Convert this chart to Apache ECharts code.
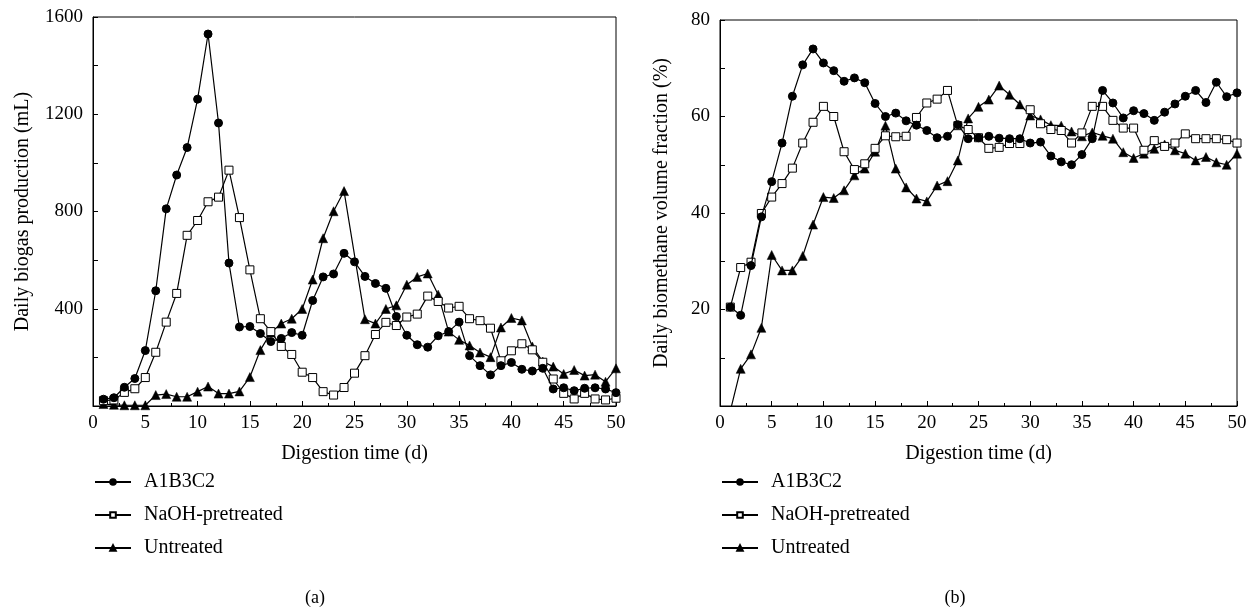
<!DOCTYPE html>
<html>
<head>
<meta charset="utf-8">
<script src="https://cdn.jsdelivr.net/npm/echarts@6/dist/echarts.min.js"></script>
<style>
html,body{margin:0;padding:0;background:#fff;}
#chart{width:1257px;height:616px;}
</style>
</head>
<body>
<div id="chart"></div>
<script>
// ---- data ----
const days = [1,2,3,4,5,6,7,8,9,10,11,12,13,14,15,16,17,18,19,20,21,22,23,24,25,26,27,28,29,30,31,32,33,34,35,36,37,38,39,40,41,42,43,44,45,46,47,48,49,50];
const seriesNames = ['A1B3C2','NaOH-pretreated','Untreated'];

// (a) Daily biogas production (mL)
const biogasA1B3C2 = [28,34,77,113,228,474,811,950,1063,1262,1530,1164,588,325,327,298,265,278,302,291,434,531,543,628,593,533,504,484,368,291,252,242,289,306,345,207,166,128,166,179,151,144,155,70,75,63,73,75,70,55];
const biogasNaOH = [22,25,56,71,117,221,345,463,702,763,840,859,970,775,560,359,306,245,212,139,117,59,45,76,135,207,294,344,331,366,378,452,430,403,410,359,351,320,186,227,256,231,180,111,52,29,52,29,25,32];
const biogasUntreated = [8,5,3,3,3,45,49,38,38,59,80,51,51,60,119,230,302,339,359,399,520,690,801,884,null,357,339,399,414,499,531,545,458,306,272,249,220,201,323,362,352,245,183,162,132,148,125,129,100,155];

// (b) Daily biomethane volume fraction (%)
const methaneA1B3C2 = [20.5,18.8,29.1,39.2,46.5,54.5,64.2,70.7,74.0,71.1,69.5,67.3,68.0,67.0,62.7,60.0,60.7,59.1,58.2,57.1,55.6,55.9,58.3,55.4,55.6,55.9,55.5,55.4,55.4,54.5,54.7,51.8,50.6,50.0,52.1,55.4,65.4,62.8,59.7,61.2,60.6,59.2,60.9,62.6,64.2,65.4,62.9,67.1,64.1,64.9];
const methaneNaOH = [20.5,28.7,29.8,39.9,43.3,46.1,49.3,54.5,58.8,62.1,60.0,52.7,49.0,50.2,53.4,56.0,55.8,55.9,59.8,62.8,63.6,65.4,58.1,57.3,55.6,53.4,53.6,54.4,54.4,61.4,58.5,57.3,57.1,54.5,56.6,62.1,62.1,59.2,57.6,57.6,53.0,55.0,53.8,54.5,56.4,55.4,55.4,55.4,55.2,54.5];
const methaneUntreated = [-1,7.7,10.7,16.2,31.3,28.1,28.1,31.1,37.6,43.3,43.1,44.7,47.8,49.2,52.7,58.1,49.2,45.3,43.0,42.4,45.7,46.6,50.9,59.6,62.0,63.5,66.4,64.5,62.5,60.2,59.4,58.2,58.1,56.9,55.9,56.7,56.0,55.4,52.6,51.4,52.3,53.3,54.2,53.0,52.3,50.9,51.6,50.5,50.0,52.3];

const xTicks = {min:0, max:50, interval:5};
const yTicksA = {min:0, max:1600, interval:400};
const yTicksB = {min:0, max:80, interval:20};

// ---- chart ----
const FONT = 'Liberation Serif';
const chart = echarts.init(document.getElementById('chart'), null, {renderer:'canvas'});

function pairs(v){ return days.map((d,i)=>[d, v[i]]); }

const markerStyles = [
  {symbol:'circle', symbolSize:8, itemStyle:{color:'#000', borderColor:'#000', borderWidth:1}},
  {symbol:'rect', symbolSize:8, itemStyle:{color:'#fff', borderColor:'#000', borderWidth:1}},
  {symbol:'triangle', symbolSize:9, itemStyle:{color:'#000', borderColor:'#000', borderWidth:0.5}}
];

function mkSeries(name, idx, grid, vals){
  const m = markerStyles[idx];
  return {
    name: name, type:'line', xAxisIndex:grid, yAxisIndex:grid,
    data: pairs(vals), connectNulls:true, clip:true,
    symbol: m.symbol, symbolSize: m.symbolSize, showAllSymbol:true,
    itemStyle: m.itemStyle,
    lineStyle:{color:'#000', width:1.2},
    emphasis:{disabled:true}, animation:false, z: 3 - idx
  };
}

function xAxis(grid){
  return {
    type:'value', gridIndex:grid, min:xTicks.min, max:xTicks.max, interval:xTicks.interval,
    name:'Digestion time (d)', nameLocation:'middle', nameGap:38,
    nameTextStyle:{fontFamily:FONT, fontSize:20, color:'#000'},
    axisLine:{show:true, lineStyle:{color:'#000', width:1}},
    axisTick:{show:true, inside:true, length:5, lineStyle:{color:'#000'}},
    minorTick:{show:true, splitNumber:2, length:3, lineStyle:{color:'#000'}},
    axisLabel:{fontFamily:FONT, fontSize:19, color:'#000', margin:8, showMinLabel:true, showMaxLabel:true},
    splitLine:{show:false}
  };
}

function yAxis(grid, t, name, gap){
  return {
    type:'value', gridIndex:grid, min:t.min, max:t.max, interval:t.interval,
    name:name, nameLocation:'middle', nameGap:gap, nameRotate:90,
    nameTextStyle:{fontFamily:FONT, fontSize:20, color:'#000'},
    axisLine:{show:true, lineStyle:{color:'#000', width:1}},
    axisTick:{show:true, inside:true, length:5, lineStyle:{color:'#000'}},
    minorTick:{show:true, splitNumber:2, length:5, lineStyle:{color:'#000'}},
    axisLabel:{fontFamily:FONT, fontSize:19, color:'#000', margin:10,
      formatter: v => v === 0 ? '' : String(v)},
    splitLine:{show:false}
  };
}

function legend(left){
  return {data:seriesNames, orient:'vertical', left:left, top:472, padding:0,
    itemWidth:36, itemHeight:7, itemGap:13,
    textStyle:{fontFamily:FONT, fontSize:20, color:'#000', padding:[0,0,0,8]}, selectedMode:false};
}

const option = {
  backgroundColor:'#fff',
  animation:false,
  grid:[
    {left:93, right:641, top:17, bottom:210, show:true, borderColor:'#000', borderWidth:1, backgroundColor:'transparent'},
    {left:720, right:20, top:20, bottom:210, show:true, borderColor:'#000', borderWidth:1, backgroundColor:'transparent'}
  ],
  xAxis:[xAxis(0), xAxis(1)],
  yAxis:[
    yAxis(0, yTicksA, 'Daily biogas production (mL)', 60),
    yAxis(1, yTicksB, 'Daily biomethane volume fraction (%)', 48)
  ],
  legend:[legend(94), legend(721)],
  graphic:[
    {type:'text', x:315, y:598, style:{text:'(a)', font:'18px "Liberation Serif"', fill:'#000', textAlign:'center', textVerticalAlign:'middle'}},
    {type:'text', x:955, y:598, style:{text:'(b)', font:'18px "Liberation Serif"', fill:'#000', textAlign:'center', textVerticalAlign:'middle'}}
  ],
  series:[
    mkSeries(seriesNames[0], 0, 0, biogasA1B3C2),
    mkSeries(seriesNames[1], 1, 0, biogasNaOH),
    mkSeries(seriesNames[2], 2, 0, biogasUntreated),
    mkSeries(seriesNames[0], 0, 1, methaneA1B3C2),
    mkSeries(seriesNames[1], 1, 1, methaneNaOH),
    mkSeries(seriesNames[2], 2, 1, methaneUntreated)
  ]
};
chart.setOption(option);
</script>
</body>
</html>
